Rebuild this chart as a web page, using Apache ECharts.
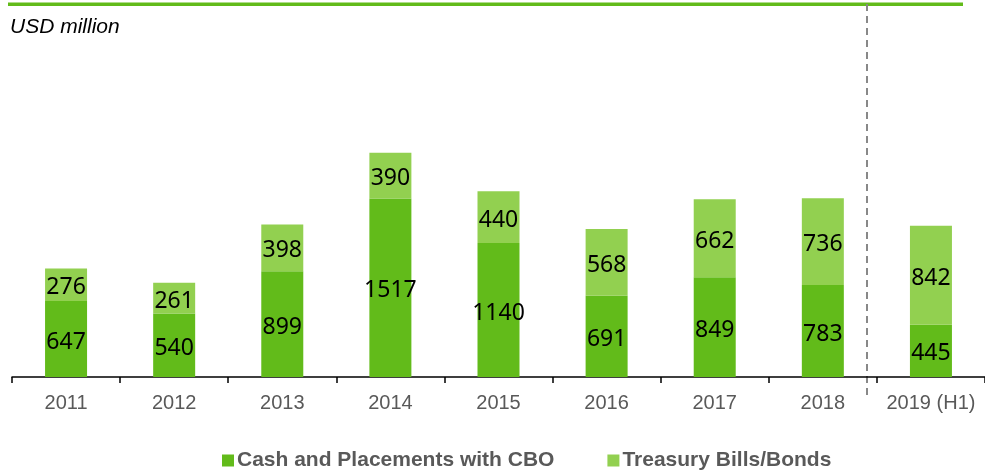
<!DOCTYPE html>
<html><head><meta charset="utf-8">
<script src="https://cdn.jsdelivr.net/npm/echarts@6/dist/echarts.min.js"></script>
<style>html,body{margin:0;padding:0;background:#fff}#c{width:985px;height:471px}</style>
</head><body><div id="c"></div>
<script>
const categories = ['2011','2012','2013','2014','2015','2016','2017','2018','2019 (H1)'];
const cashCBO = [647, 540, 899, 1517, 1140, 691, 849, 783, 445];
const treasury = [276, 261, 398, 390, 440, 568, 662, 736, 842];
const seriesNames = ['Cash and Placements with CBO', 'Treasury Bills/Bonds'];

const chart = echarts.init(document.getElementById('c'));
const labelStyle = {show: true, position: 'inside', color: '#000', fontFamily: 'Noto Sans', fontSize: 23, offset: [0, 3]};
chart.setOption({
  animation: false,
  grid: {left: 12, top: 83, width: 980, bottom: 94, containLabel: false},
  xAxis: {
    type: 'category', data: categories,
    axisLine: {lineStyle: {color: '#000', width: 1.5}},
    axisTick: {show: true, length: 6, lineStyle: {color: '#000', width: 1.5}},
    axisLabel: {color: '#595959', fontFamily: 'Liberation Sans', fontSize: 20, margin: 16, interval: 0, hideOverlap: false}
  },
  yAxis: {type: 'value', min: 0, max: 2500, show: false, splitLine: {show: false}},
  legend: {
    top: 445, left: 217, itemWidth: 12, itemHeight: 12, itemGap: 53,
    icon: 'rect',
    textStyle: {color: '#595959', fontFamily: 'Liberation Sans', fontWeight: 'bold', fontSize: 21, padding: [0,0,0,-2]},
    data: seriesNames
  },
  series: [
    {name: seriesNames[0], type: 'bar', stack: 's', data: cashCBO, barWidth: 42,
     itemStyle: {color: '#62BB1A'}, label: labelStyle},
    {name: seriesNames[1], type: 'bar', stack: 's', data: treasury, barWidth: 42,
     itemStyle: {color: '#92D050'}, label: labelStyle}
  ],
  graphic: [
    {type: 'rect', shape: {x: 8, y: 2.5, width: 955, height: 3.5}, style: {fill: '#62BB1A'}},
    {type: 'text', left: 10, top: 17, style: {text: 'USD million', fontFamily: 'Liberation Sans', fontStyle: 'italic', fontSize: 21, fill: '#000'}},
    {type: 'line', shape: {x1: 867, y1: 4, x2: 867, y2: 398}, style: {stroke: '#888', lineWidth: 2, lineDash: [7, 5]}}
  ]
});
</script></body></html>
